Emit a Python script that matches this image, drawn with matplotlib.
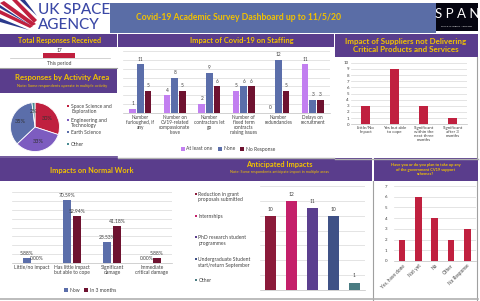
import numpy as np
import matplotlib
matplotlib.use("Agg")
import matplotlib.pyplot as plt
from matplotlib.patches import Rectangle, Polygon

plt.rcParams["font.family"] = ["Lato", "DejaVu Sans"]

# ---- data ----
total_responses = 17

activity_labels = ["Space Science and\nExploration", "Engineering and\nTechnology", "Earth Science", "Other"]
activity_pct = [30, 33, 35, 2]

staff_cats = ["Number\nfurloughed, if\nany", "Number on\nCV19-related\ncompassionate\nleave",
              "Number\ncontractors let\ngo", "Number of\nfixed term\ncontracts\nraising issues",
              "Number\nredundancies", "Delays on\nrecruitment"]
staff_at_least_one = [1, 4, 2, 5, 0, 11]
staff_none = [11, 8, 9, 6, 12, 3]
staff_no_response = [5, 5, 6, 6, 5, 3]

supplier_cats = ["Little/No\nImpact", "Yes but able\nto cope", "Significant\nwithin the\nnext three\nmonths",
                 "Significant\nafter 3\nmonths"]
supplier_vals = [3, 9, 3, 1]

work_cats = ["Little/no impact", "Has little impact\nbut able to cope", "Significant\ndamage",
             "Immediate\ncritical damage"]
work_now = [5.88, 70.59, 23.53, 0.00]
work_3m = [0.00, 52.94, 41.18, 5.88]

antic_labels = ["Reduction in grant\nproposals submitted", "Internships", "PhD research student\nprogrammes",
                "Undergraduate Student\nstart/return September", "Other"]
antic_vals = [10, 12, 11, 10, 1]

support_cats = ["Yes, have done", "Not yet", "No", "Other", "No Response"]
support_vals = [2, 6, 4, 2, 3]

# ---- colours ----
PURPLE = "#5a3d8c"
HEAD_BLUE = "#5a6da6"
GOLD = "#f2c200"
CRIMSON = "#c0203f"
MAROON = "#6e1230"
BLUE = "#5b6eaa"
VIOLET = "#c27ff0"
GRID = "#d9d9d9"
TXT = "#404040"
pie_colors = [CRIMSON, "#7d5cc0", BLUE, "#4b8c93"]
antic_colors = ["#8b1a3a", "#c4206a", "#5b3f8f", "#3f5186", "#4a7c82"]

W, H = 480, 301
fig = plt.figure(figsize=(4.8, 3.01), dpi=100)
fig.patch.set_facecolor("white")


def rect(x0, y0, x1, y1):
    return [x0 / W, 1 - y1 / H, (x1 - x0) / W, (y1 - y0) / H]


bg = fig.add_axes([0, 0, 1, 1])
bg.set_xlim(0, W)
bg.set_ylim(H, 0)
bg.axis("off")


def box(x0, y0, x1, y1, color):
    bg.add_patch(Rectangle((x0, y0), x1 - x0, y1 - y0, color=color, lw=0, zorder=1))


def hline(y, x0, x1, color="#a0a0a0", lw=0.8):
    bg.plot([x0, x1], [y, y], color=color, lw=lw, zorder=2)


def vline(x, y0, y1, color="#a0a0a0", lw=0.8):
    bg.plot([x, x], [y0, y1], color=color, lw=lw, zorder=2)


# header
box(110, 3, 436, 33, HEAD_BLUE)
box(436, 3, 478, 31, "#050510")
bg.text(238, 17, "Covid-19 Academic Survey Dashboard up to 11/5/20", color=GOLD,
        fontsize=6.2, fontweight="bold", ha="center", va="center", zorder=3)
bg.text(457, 14.5, "S P A N", color="white", fontsize=9.5, ha="center", va="center", zorder=3)
bg.text(457, 26, "SPACE ACADEMIC NETWORK", color="white", fontsize=1.6, ha="center", va="center", zorder=3)

# UK space agency logo
for pts, c in [([(0, 3), (4, 1), (36, 24), (32, 26)], CRIMSON),
               ([(12, 0), (17, 0), (37, 20), (34, 23)], CRIMSON),
               ([(0, 14), (0, 10), (33, 26), (30, 28)], CRIMSON),
               ([(20, 0), (25, 0), (37, 16)], "#2b3a8c"),
               ([(0, 18), (0, 22), (29, 30)], "#2b3a8c"),
               ([(0, 5), (0, 8), (30, 25)], "#2b3a8c")]:
    bg.add_patch(Polygon(pts, closed=True, color=c, lw=0, zorder=2))
bg.text(38, 10, "UK SPACE", color="#3b48a6", fontsize=11, fontweight="medium", ha="left", va="center", zorder=3)
bg.text(38, 25, "AGENCY", color="#3b48a6", fontsize=11, fontweight="medium", ha="left", va="center", zorder=3)

# section title bands
box(0, 34, 117, 47, PURPLE)
bg.text(59, 40.5, "Total Responses Received", color=GOLD, fontsize=5.1, fontweight="bold",
        ha="center", va="center", zorder=3)
box(118, 34, 334, 47, PURPLE)
bg.text(242, 40.5, "Impact of Covid-19 on Staffing", color=GOLD, fontsize=5.4, fontweight="bold",
        ha="center", va="center", zorder=3)
box(335, 34, 478, 57, PURPLE)
bg.text(406, 45.5, "Impact of Suppliers not Delivering\nCritical Products and Services", color=GOLD,
        fontsize=5.8, fontweight="bold", ha="center", va="center", linespacing=1.25, zorder=3)
box(0, 69, 117, 93, PURPLE)
bg.text(62, 77.5, "Responses by Activity Area", color=GOLD, fontsize=5.6, fontweight="bold",
        ha="center", va="center", zorder=3)
bg.text(62, 86.5, "Note: Some respondents operate in multiple activity", color=GOLD, fontsize=2.9,
        ha="center", va="center", zorder=3)
box(0, 158, 372, 181, PURPLE)
bg.text(92, 170, "Impacts on Normal Work", color=GOLD, fontsize=5.3, fontweight="bold",
        ha="center", va="center", zorder=3)
bg.text(279, 165, "Anticipated Impacts", color=GOLD, fontsize=5.3, fontweight="bold",
        ha="center", va="center", zorder=3)
bg.text(279, 172.5, "Note: Some respondents anticipate impact in multiple areas", color=GOLD,
        fontsize=2.7, ha="center", va="center", zorder=3)
box(374, 158, 478, 181, PURPLE)
bg.text(426, 169.5, "Have you or do you plan to take up any\nof the government CV19 support\nschemes?",
        color=GOLD, fontsize=2.9, fontweight="bold", ha="center", va="center", linespacing=1.25, zorder=3)

# separator lines
hline(58, 10, 110, "#c0c0c0", 0.5)
hline(68, 0, 117)
hline(157, 0, 117, PURPLE, 1.2)
hline(158, 118, 334, "#b0b0b0", 1.0)
hline(159, 335, 478, "#b0b0b0", 1.0)
vline(477, 57, 158)
vline(373, 181, 300)
vline(477, 181, 300)
hline(299, 0, 478, "#b0b0b0", 1.2)

# total responses bar
ax_tot = fig.add_axes(rect(43, 53, 75, 57.5))
ax_tot.barh([0], [total_responses], height=1, color=CRIMSON)
ax_tot.set_xlim(0, total_responses)
ax_tot.set_ylim(-0.5, 0.5)
ax_tot.axis("off")
bg.text(59, 50, str(total_responses), color=TXT, fontsize=3.5, ha="center", va="center", zorder=3)
bg.text(59, 63, "This period", color=TXT, fontsize=3.5, ha="center", va="center", zorder=3)

# pie
ax_pie = fig.add_axes(rect(10, 102, 60, 152))
ax_pie.pie(activity_pct, colors=pie_colors, startangle=90, counterclock=False,
           autopct="%d%%", pctdistance=0.62, wedgeprops=dict(edgecolor="white", linewidth=0.6),
           textprops=dict(fontsize=4, color="#303030"))
ax_pie.set_xlim(-1.02, 1.02)
ax_pie.set_ylim(-1.02, 1.02)
ax_pie.set_aspect("equal")
legend_y = [106, 120, 132, 144]
for y, lab, c in zip(legend_y, activity_labels, pie_colors):
    bg.add_patch(Rectangle((67, y - 1.2), 2.4, 2.4, color=c, lw=0, zorder=3))
    bg.text(71, y - 2.3, lab, fontsize=3.6, color=TXT, ha="left", va="top", linespacing=1.15, zorder=3)


def style_axes(ax, ylim, step, yticklabels=False, tick_fs=3.4):
    ax.set_facecolor("none")
    ax.set_ylim(*ylim)
    ax.set_yticks(np.arange(ylim[0], ylim[1] + 0.01, step))
    ax.grid(axis="y", color=GRID, lw=0.5)
    ax.set_axisbelow(True)
    for s in ["top", "right", "left"]:
        ax.spines[s].set_visible(False)
    ax.spines["bottom"].set_color("#bfbfbf")
    ax.spines["bottom"].set_linewidth(0.5)
    ax.tick_params(length=0, pad=1.5, labelsize=tick_fs, colors=TXT)
    if not yticklabels:
        ax.set_yticklabels([])


# staffing
ax_st = fig.add_axes(rect(123, 51, 330, 113))
x = np.arange(len(staff_cats))
w = 0.19
series = [(staff_at_least_one, VIOLET, "At least one"), (staff_none, BLUE, "None"),
          (staff_no_response, MAROON, "No Response")]
for i, (vals, c, lab) in enumerate(series):
    b = ax_st.bar(x + (i - 1) * 0.22, vals, width=w, color=c, label=lab)
    ax_st.bar_label(b, padding=2, fontsize=3.4, color=TXT)
style_axes(ax_st, (0, 14), 2)
ax_st.set_xlim(-0.5, len(staff_cats) - 0.5)
ax_st.set_xticks(x)
ax_st.set_xticklabels(staff_cats, fontsize=3.4, linespacing=1.0, va="top")
ax_st.legend(loc="center", bbox_to_anchor=(228 / W, 1 - 149 / H), bbox_transform=fig.transFigure,
             ncol=3, frameon=False, fontsize=3.6, handlelength=0.8, handleheight=0.8,
             handletextpad=0.3, columnspacing=1.0, labelcolor=TXT)

# suppliers
ax_su = fig.add_axes(rect(351, 62.7, 467, 124.3))
xs = np.arange(len(supplier_cats))
ax_su.bar(xs, supplier_vals, width=0.31, color=CRIMSON)
style_axes(ax_su, (0, 10), 1, yticklabels=True, tick_fs=3.2)
ax_su.set_xlim(-0.5, len(supplier_cats) - 0.5)
ax_su.set_xticks(xs)
ax_su.set_xticklabels(supplier_cats, fontsize=3.2, linespacing=1.0, va="top")

# normal work
ax_nw = fig.add_axes(rect(12, 192, 172, 263))
xn = np.arange(len(work_cats))
b1 = ax_nw.bar(xn - 0.125, work_now, width=0.22, color=BLUE, label="Now")
b2 = ax_nw.bar(xn + 0.125, work_3m, width=0.22, color=MAROON, label="In 3 months")
ax_nw.bar_label(b1, fmt="%.2f%%", padding=1.5, fontsize=3.6, color=TXT)
ax_nw.bar_label(b2, fmt="%.2f%%", padding=1.5, fontsize=3.6, color=TXT)
style_axes(ax_nw, (0, 80), 10)
ax_nw.set_xlim(-0.5, len(work_cats) - 0.5)
ax_nw.set_xticks(xn)
ax_nw.set_xticklabels(work_cats, fontsize=3.6, linespacing=1.1, va="top")
ax_nw.legend(loc="center", bbox_to_anchor=(90 / W, 1 - 290 / H), bbox_transform=fig.transFigure,
             ncol=2, frameon=False, fontsize=3.6, handlelength=0.8, handleheight=0.8,
             handletextpad=0.3, columnspacing=0.8, labelcolor=TXT)

# anticipated impacts
ax_an = fig.add_axes(rect(260, 186, 365, 290))
xa = np.arange(len(antic_vals))
b = ax_an.bar(xa, antic_vals, width=0.55, color=antic_colors)
ax_an.bar_label(b, padding=3, fontsize=3.6, color=TXT)
style_axes(ax_an, (0, 14), 2)
ax_an.set_xlim(-0.5, len(antic_vals) - 0.5)
ax_an.set_xticks([])
antic_y = [194, 216, 237, 259, 280]
for y, lab, c in zip(antic_y, antic_labels, antic_colors):
    bg.add_patch(Rectangle((194.5, y - 1.2), 2.4, 2.4, color=c, lw=0, zorder=3))
    bg.text(198.5, y - 2.3, lab, fontsize=3.6, color=TXT, ha="left", va="top", linespacing=1.2, zorder=3)

# support schemes
ax_sp = fig.add_axes(rect(394, 186, 475.5, 261))
xp = np.arange(len(support_cats))
ax_sp.bar(xp, support_vals, width=0.4, color=CRIMSON)
style_axes(ax_sp, (0, 7), 1, yticklabels=True, tick_fs=3.2)
ax_sp.set_xlim(-0.5, len(support_cats) - 0.5)
ax_sp.set_xticks(xp)
ax_sp.set_xticklabels(support_cats, fontsize=3.4, rotation=45, ha="right", rotation_mode="anchor")
ax_sp.tick_params(axis="y", pad=5)

fig.savefig("out.png", dpi=100)
